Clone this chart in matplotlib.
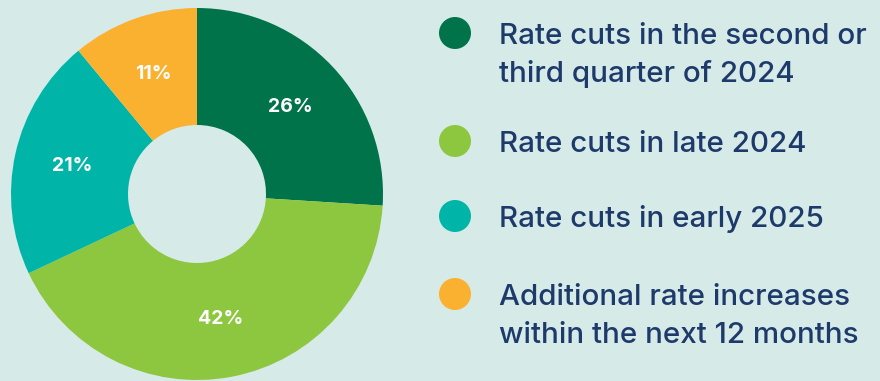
import matplotlib
matplotlib.use("Agg")
import matplotlib.pyplot as plt

categories = [
    "Rate cuts in the second or\nthird quarter of 2024",
    "Rate cuts in late 2024",
    "Rate cuts in early 2025",
    "Additional rate increases\nwithin the next 12 months",
]
values = [26, 42, 21, 11]
colors = ["#00734a", "#8dc63f", "#00b5a8", "#fbb130"]

BG = "#d6eae8"
NAVY = "#1e3a6b"
W, H = 880, 381

fig = plt.figure(figsize=(W / 100, H / 100), dpi=100, facecolor=BG)
ax = fig.add_axes([0, 0, 1, 1])
ax.set_facecolor(BG)

cx, cy = 197, H - 194
R, r = 186, 69
wedges, texts, autotexts = ax.pie(
    values, colors=colors, startangle=90, counterclock=False,
    center=(cx, cy), radius=R,
    wedgeprops=dict(width=R - r, linewidth=0),
    autopct=lambda p: f"{p:.0f}%", pctdistance=(R + r) / 2 / R,
    textprops=dict(color="white", fontsize=14, fontweight="bold", family="Inter"),
)

# legend
legend_y = [33, 141, 216, 294]
for cat, col, y in zip(categories, colors, legend_y):
    ax.scatter([455], [H - y], s=32 ** 2 * 0.5184, color=col, edgecolors="none", zorder=3)
    for i, line in enumerate(cat.split("\n")):
        ax.text(499, H - (y + 11 + i * 38), line, color=NAVY, fontsize=21.3,
                family="Inter", fontweight="medium", va="baseline", ha="left")

ax.set_xlim(0, W)
ax.set_ylim(0, H)
ax.set_aspect("auto")
ax.axis("off")
fig.savefig("out.png", dpi=100, facecolor=BG)
